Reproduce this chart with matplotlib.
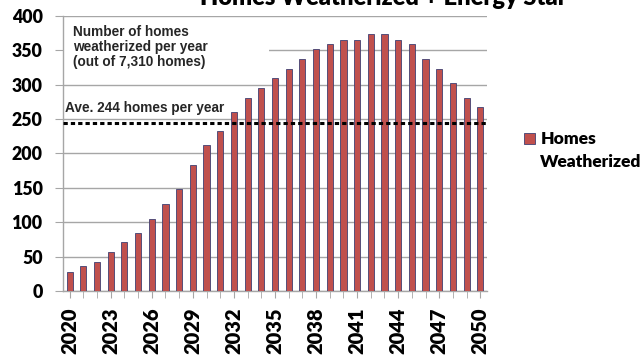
import matplotlib.pyplot as plt
from matplotlib.patches import Rectangle

# Homes weatherized each year
years = list(range(2020, 2051))
homes = [28, 36, 42, 57, 71, 84, 105, 127, 148, 183, 212, 233, 260, 281, 295,
         310, 323, 338, 352, 359, 365, 365, 374, 374, 365, 359, 338, 323, 303,
         281, 267]
average = 244
tick_years = list(range(2020, 2051, 3))
y_ticks = list(range(0, 401, 50))

bar_color = "#C0504D"
edge_color = "#3F3F72"
grid_color = "#A6A6A6"
note_color = "#262626"

fig = plt.figure(figsize=(6.41, 3.61), dpi=100)
ax = fig.add_axes([0.098, 0.194, 0.662, 0.762])

ax.bar(years, homes, width=0.45, color=bar_color, edgecolor=edge_color,
       linewidth=0.6, zorder=3)
ax.axhline(average, color="black", linewidth=2.2, linestyle=(0, (1.4, 1.0)),
           dash_capstyle="butt", zorder=4)

ax.set_xlim(2019.5, 2050.5)
ax.set_ylim(0, 400)
ax.set_yticks(y_ticks)
ax.set_xticks(years, minor=True)
ax.set_xticks(tick_years)
ax.set_xticklabels([str(y) for y in tick_years], rotation=90)
ax.yaxis.grid(True, color=grid_color, linewidth=1.0, zorder=0)
ax.set_axisbelow(True)

for side in ["top", "right"]:
    ax.spines[side].set_visible(False)
for side in ["left", "bottom"]:
    ax.spines[side].set_color(grid_color)
    ax.spines[side].set_linewidth(1.0)

ax.tick_params(axis="y", length=6, color=grid_color, pad=8.5)
ax.tick_params(axis="x", which="both", length=5, color=grid_color, pad=7)
for lbl in ax.get_yticklabels():
    lbl.set_fontfamily("Lato")
    lbl.set_fontweight("heavy")
    lbl.set_fontsize(12.8)
for lbl in ax.get_xticklabels():
    lbl.set_fontfamily("Lato")
    lbl.set_fontweight("heavy")
    lbl.set_fontsize(14.5)

# white note box over the upper gridline
ax.add_patch(Rectangle((0, 0.775), 0.487, 0.19, transform=ax.transAxes,
                       facecolor="white", edgecolor="none", zorder=1))
ax.text(0.024, 0.968, "Number of homes\nweatherized per year\n(out of 7,310 homes)",
        transform=ax.transAxes, ha="left", va="top", fontsize=9.8,
        fontweight="bold", family="Liberation Sans", color=note_color,
        linespacing=1.12, zorder=5)
ax.text(0.006, 256, f"Ave. {average} homes per year", ha="left", va="bottom",
        transform=ax.get_yaxis_transform(), fontsize=9.8, fontweight="bold",
        family="Liberation Sans", color=note_color, zorder=5)

fig.text(0.598, 0.986, "Homes Weatherized + Energy Star", ha="center",
         va="baseline", fontsize=17, fontweight="heavy", family="Lato")

# legend
fig.patches.append(Rectangle((0.817, 0.6), 0.018, 0.032, transform=fig.transFigure,
                             facecolor=bar_color, edgecolor=edge_color, linewidth=0.6))
fig.text(0.843, 0.616, "Homes", ha="left", va="center", fontsize=12.5,
         fontweight="heavy", family="Lato")
fig.text(0.843, 0.551, "Weatherized", ha="left", va="center", fontsize=12.5,
         fontweight="heavy", family="Lato")

fig.savefig("out.png", dpi=100)
